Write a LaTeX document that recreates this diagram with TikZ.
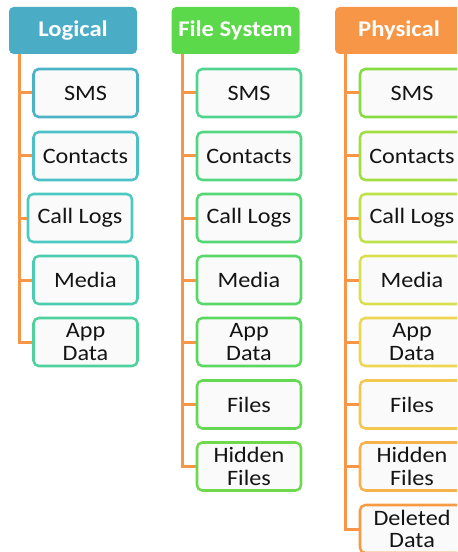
\documentclass[tikz,border=0pt]{standalone}
\usepackage{fontspec}
\setmainfont{Carlito}[FakeStretch=1.1]
\usetikzlibrary{calc}

% header fills
\definecolor{hdrblue}{HTML}{4BACC6}
\definecolor{hdrgreen}{HTML}{5CD94A}
\definecolor{hdrorange}{HTML}{F79646}
\definecolor{linkorange}{HTML}{F79646}
\definecolor{boxfill}{HTML}{FAFAFA}
\definecolor{txt}{HTML}{141414}
% item border shades, blue through green to orange
\definecolor{ca}{HTML}{4BB2C8}
\definecolor{cb}{HTML}{4BC0C8}
\definecolor{cc}{HTML}{4CC9C0}
\definecolor{cd}{HTML}{4DCDB0}
\definecolor{ce}{HTML}{4FD19E}
\definecolor{cf}{HTML}{50D490}
\definecolor{cg}{HTML}{52D682}
\definecolor{ch}{HTML}{55D776}
\definecolor{ci}{HTML}{58D86A}
\definecolor{cj}{HTML}{5CD860}
\definecolor{ck}{HTML}{66D855}
\definecolor{cl}{HTML}{6ED84E}
\definecolor{cm}{HTML}{86DC40}
\definecolor{cn}{HTML}{A2DE42}
\definecolor{co}{HTML}{BEE048}
\definecolor{cp}{HTML}{D9E04E}
\definecolor{cq}{HTML}{EED650}
\definecolor{cr}{HTML}{F4C850}
\definecolor{cs}{HTML}{F6B24C}
\definecolor{ct}{HTML}{F79A46}

\begin{document}
\begin{tikzpicture}[x=0.75pt,y=-0.75pt,
  header/.style={fill=#1, rounded corners=3.5pt, minimum width=96pt, minimum height=35.25pt,
    inner sep=0pt, text=white, font=\fontsize{16.8}{17}\selectfont\bfseries},
  item/.style={draw=#1, line width=1.9pt, fill=boxfill, rounded corners=4pt,
    minimum width=78pt, minimum height=36pt, inner sep=0pt, text=txt, align=center,
    font=\fontsize{16.5}{17}\selectfont},
  conn/.style={draw=linkorange, line width=2.25pt}]
\useasboundingbox (0,0) rectangle (457,552);
\clip (0,0) rectangle (457,552);

% ---- Logical ----
\node[header=hdrblue] (L0) at (73,30.5) {Logical};
\node[item=ca] (L1) at (85.5,93) {SMS};
\node[item=cb] (L2) at (85.5,156) {Contacts};
\node[item=cc] (L3) at (80,218) {Call Logs};
\node[item=cd] (L4) at (85.5,280) {Media};
\node[item=ce] (L5) at (85.5,342) {App\\Data};
\coordinate (Lr) at ($(L0.south west)+(11,0)$);
\foreach \k in {1,...,5} \draw[conn] (Lr) |- (L\k.west);

% ---- File System ----
\node[header=hdrgreen] (F0) at (235.5,30.5) {File System};
\node[item=cf] (F1) at (249,93) {SMS};
\node[item=cg] (F2) at (249,156) {Contacts};
\node[item=ch] (F3) at (249,218) {Call Logs};
\node[item=ci] (F4) at (249,280) {Media};
\node[item=cj] (F5) at (249,342) {App\\Data};
\node[item=ck] (F6) at (249,404.5) {Files};
\node[item=cl] (F7) at (249,466.5) {Hidden\\Files};
\coordinate (Fr) at ($(F0.south west)+(11,0)$);
\foreach \k in {1,...,7} \draw[conn] (Fr) |- (F\k.west);

% ---- Physical ----
\node[header=hdrorange] (P0) at (399,30.5) {Physical};
\node[item=cm] (P1) at (412,93) {SMS};
\node[item=cn] (P2) at (412,156) {Contacts};
\node[item=co] (P3) at (412,218) {Call Logs};
\node[item=cp] (P4) at (412,280) {Media};
\node[item=cq] (P5) at (412,342) {App\\Data};
\node[item=cr] (P6) at (412,404.5) {Files};
\node[item=cs] (P7) at (412,466.5) {Hidden\\Files};
\node[item=ct] (P8) at (412,529) {Deleted\\Data};
\coordinate (Pr) at ($(P0.south west)+(11,0)$);
\foreach \k in {1,...,8} \draw[conn] (Pr) |- (P\k.west);
\end{tikzpicture}
\end{document}
